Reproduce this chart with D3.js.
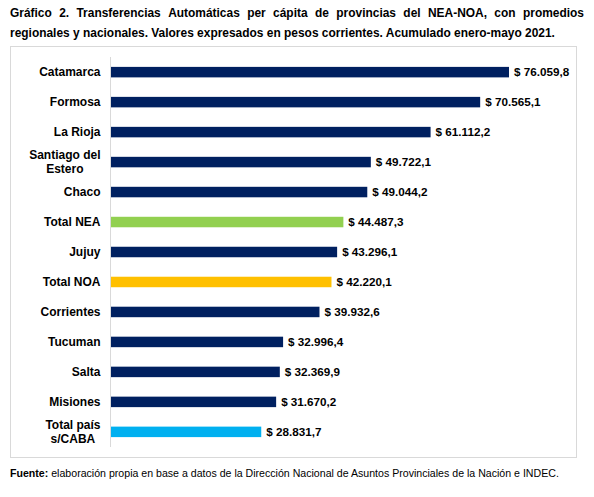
<!DOCTYPE html>
<html><head><meta charset="utf-8">
<script src="https://cdn.jsdelivr.net/npm/d3@7"></script>
<style>body{margin:0;background:#fff}svg{display:block}text{font-family:"Liberation Sans",Arial,sans-serif}</style>
</head><body><svg id="c" width="594" height="497"></svg>
<script>
const categories = ["Catamarca","Formosa","La Rioja","Santiago del Estero","Chaco","Total NEA","Jujuy","Total NOA","Corrientes","Tucuman","Salta","Misiones","Total país s/CABA"];
const labelLines = [["Catamarca"],["Formosa"],["La Rioja"],["Santiago del","Estero"],["Chaco"],["Total NEA"],["Jujuy"],["Total NOA"],["Corrientes"],["Tucuman"],["Salta"],["Misiones"],["Total país","s/CABA"]];
const values = [76059.8,70565.1,61112.2,49722.1,49044.2,44487.3,43296.1,42220.1,39932.6,32996.4,32369.9,31670.2,28831.7];
const valueLabels = ["$ 76.059,8","$ 70.565,1","$ 61.112,2","$ 49.722,1","$ 49.044,2","$ 44.487,3","$ 43.296,1","$ 42.220,1","$ 39.932,6","$ 32.996,4","$ 32.369,9","$ 31.670,2","$ 28.831,7"];
const barColors = ["#002060","#002060","#002060","#002060","#002060","#92D050","#002060","#FFC000","#002060","#002060","#002060","#002060","#00B0F0"];
const titleLines = ["Gráfico 2. Transferencias Automáticas per cápita de provincias del NEA-NOA, con promedios","regionales y nacionales. Valores expresados en pesos corrientes. Acumulado enero-mayo 2021."];

const svg = d3.select("#c");
const TF = 11.95;
const t1 = svg.append("text").attr("y",17).attr("font-weight","bold").attr("font-size",TF).attr("fill","#000");
const words = titleLines[0].split(" ");
const tmp = words.map(w => { const t = svg.append("text").attr("font-weight","bold").attr("font-size",TF).text(w); const l=t.node().getComputedTextLength(); t.remove(); return l;});
const total = d3.sum(tmp), gap = (584-10-total)/(words.length-1);
let cx = 10;
words.forEach((w,i)=>{ t1.append("tspan").attr("x",cx).text(w); cx += tmp[i]+gap; });
svg.append("text").attr("x",10).attr("y",37).attr("font-weight","bold").attr("font-size",TF).attr("fill","#000").text(titleLines[1]);

svg.append("rect").attr("x",10.5).attr("y",46.5).attr("width",566).attr("height",411).attr("fill","none").attr("stroke","#d9d9d9").attr("stroke-width",1);

const x = d3.scaleLinear().domain([0,76059.8]).range([110,509]);
const y = d3.scaleBand().domain(categories).range([57,447]).paddingInner(0.65).paddingOuter(0.33);

svg.append("line").attr("x1",110.5).attr("x2",110.5).attr("y1",57).attr("y2",447).attr("stroke","#d9d9d9");

svg.selectAll("rect.bar").data(categories).join("rect").attr("class","bar")
  .attr("x",x(0)+1).attr("y",d=>y(d)).attr("height",y.bandwidth())
  .attr("width",(d,i)=>x(values[i])-x(0)-1).attr("fill",(d,i)=>barColors[i]);

svg.selectAll("text.val").data(categories).join("text").attr("class","val")
  .attr("x",(d,i)=>x(values[i])+5).attr("y",d=>y(d)+y.bandwidth()/2).attr("dy","0.35em")
  .attr("font-weight","bold").attr("font-size",11.7).attr("fill","#000").text((d,i)=>valueLabels[i]);

svg.selectAll("text.cat").data(categories).join("text").attr("class","cat")
  .attr("text-anchor","middle").attr("font-weight","bold").attr("font-size",12).attr("fill","#000")
  .each(function(d,i){
    const lines = labelLines[i]; const cy = y(d)+y.bandwidth()/2;
    const sel = d3.select(this);
    const widths = lines.map(l=>{const t=svg.append("text").attr("font-weight","bold").attr("font-size",12).text(l);const w=t.node().getComputedTextLength();t.remove();return w;});
    const maxW = d3.max(widths);
    lines.forEach((l,j)=>{
      sel.append("tspan").attr("x",100.5-maxW/2).attr("y",cy+(j-(lines.length-1)/2)*14).attr("dy","0.35em").text(l);
    });
  });

const f = svg.append("text").attr("x",10).attr("y",477).attr("font-size",10.6).attr("fill","#000");
f.append("tspan").attr("font-weight","bold").text("Fuente:");
f.append("tspan").text(" elaboración propia en base a datos de la Dirección Nacional de Asuntos Provinciales de la Nación e INDEC.");
</script></body></html>
